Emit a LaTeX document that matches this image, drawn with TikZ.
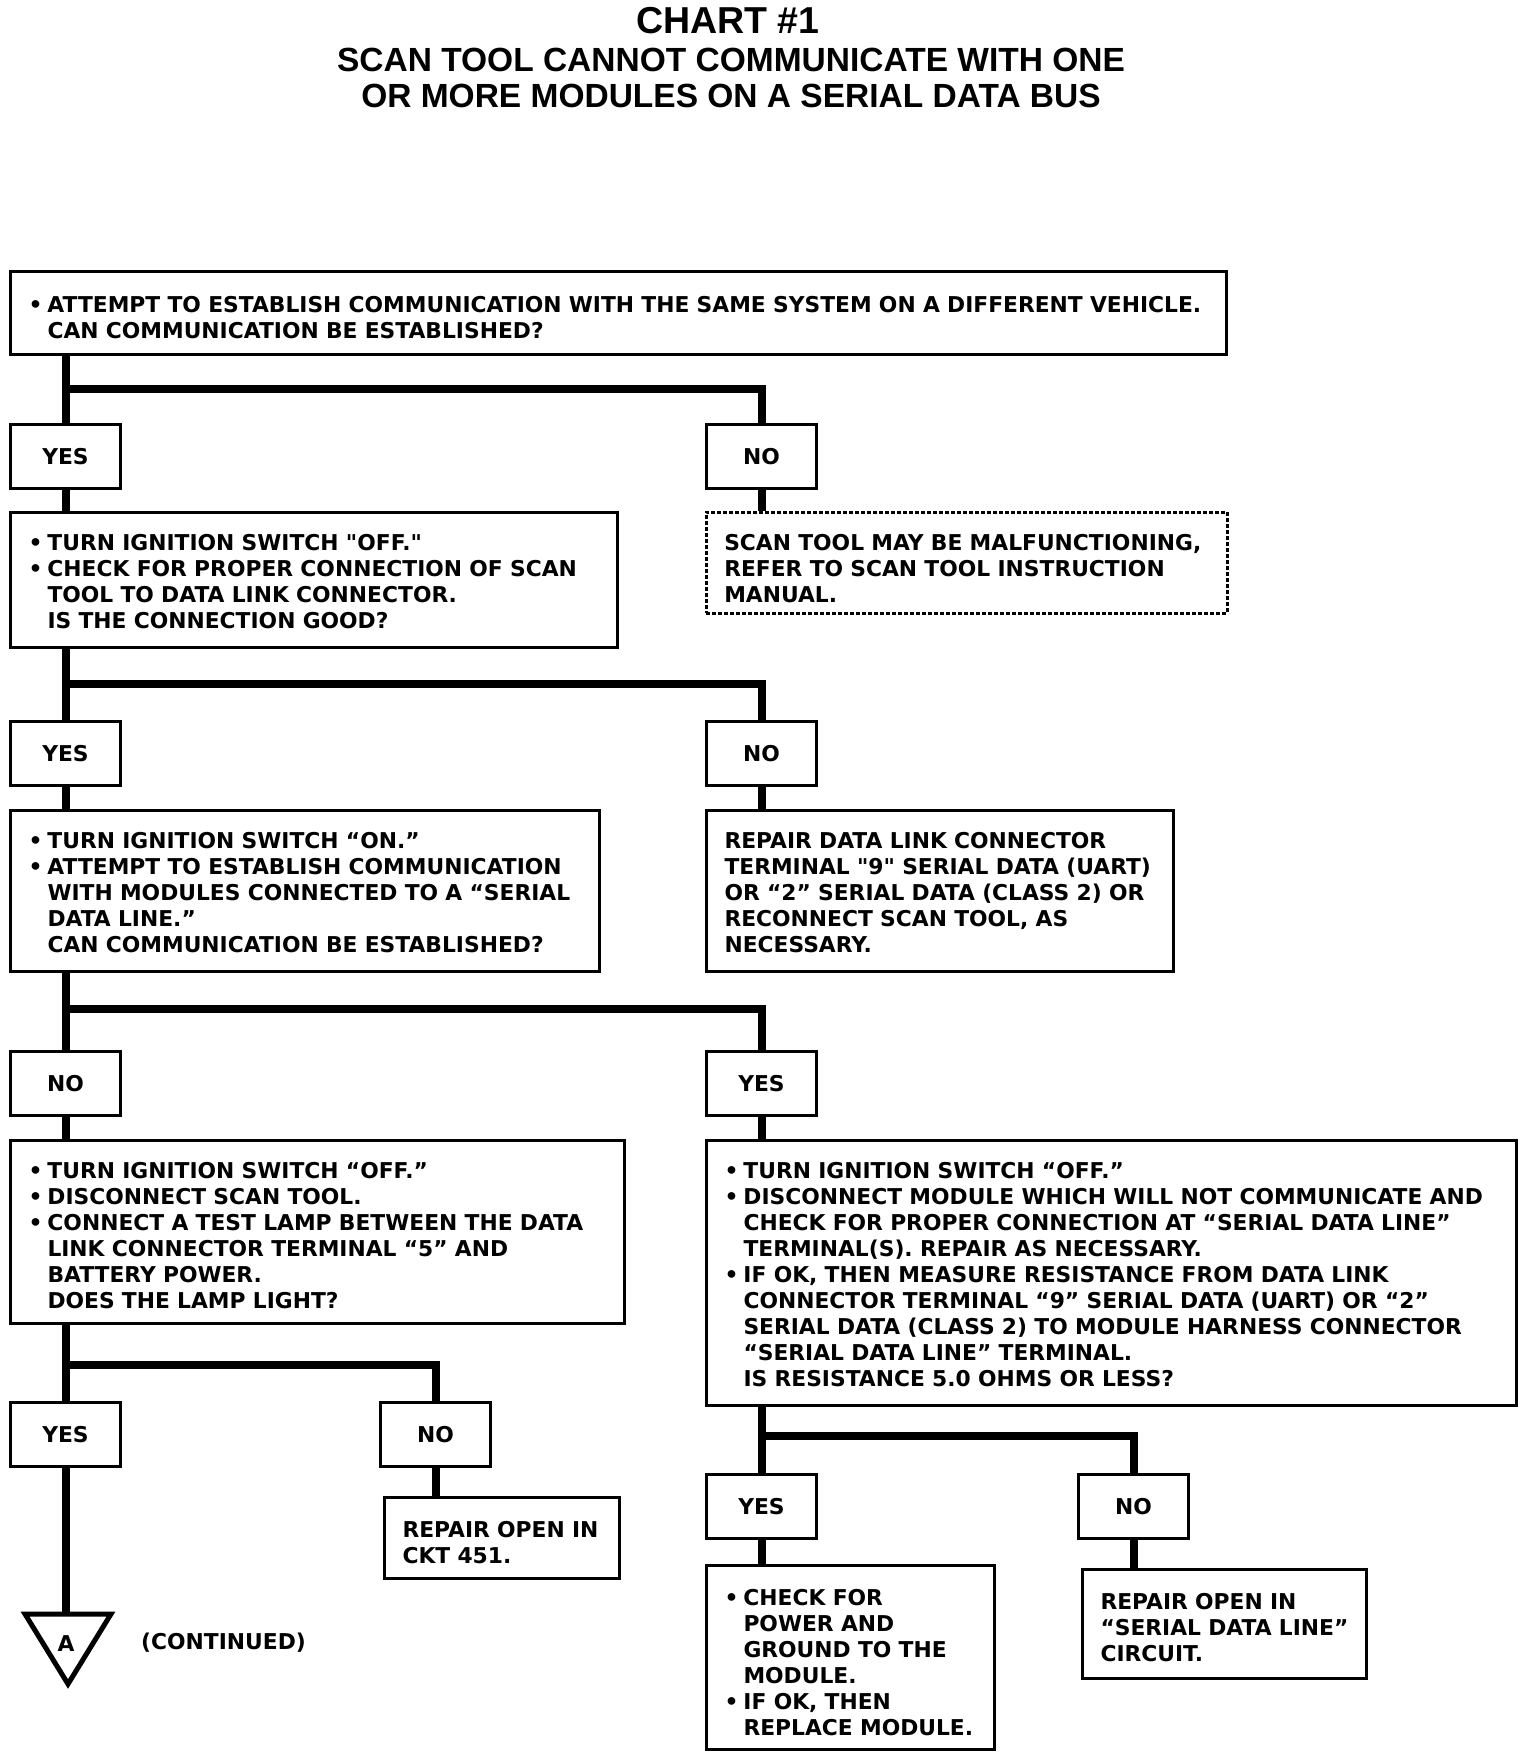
\documentclass[tikz,border=0pt]{standalone}
\usepackage{fontspec}
\setmainfont{DejaVu Sans}[Ligatures=TeXOff]
\newfontfamily\headfont{Liberation Sans}
\tikzset{
wire/.style={line width=8pt},
frame/.style={draw, line width=3pt, anchor=north west, inner xsep=18pt, inner ysep=0pt, align=left, text height=38pt},
dotframe/.style={frame, line width=2.5pt, dash pattern=on 4pt off 2pt},
answer/.style={draw, line width=3pt, anchor=north west, minimum width=110pt, minimum height=64pt, inner sep=0pt},
tri/.style={line width=5pt, line join=miter},
headline/.style={font=\headfont\bfseries\fontsize{33.5}{36}\selectfont, anchor=base},
}
\tikzstyle{every node}=[font=\bfseries\fontsize{21.8}{26}\selectfont]
\newcommand\bul[1]{\mbox{\makebox[19pt][l]{•}#1}}
\newcommand\hang[1]{\mbox{\hspace*{19pt}#1}}
\newcommand\row[1]{\mbox{#1}}

\begin{document}
\begin{tikzpicture}[x=1pt, y=-1pt]
        \useasboundingbox (0,0) rectangle (1536,1758);

        % heading
        \node[headline, font=\headfont\bfseries\fontsize{37.5}{40}\selectfont] (chart) at (728,34) {CHART \#1};
        \node[headline] (sub1) at (731,72) {SCAN TOOL CANNOT COMMUNICATE WITH ONE};
        \node[headline] (sub2) at (731,108) {OR MORE MODULES ON A SERIAL DATA BUS};

        % first question
        \node[frame, text width=1180pt, text height=41pt, text depth=42pt] (attempt) at (9,270)
        {\bul{ATTEMPT TO ESTABLISH COMMUNICATION WITH THE SAME SYSTEM ON A DIFFERENT VEHICLE.}\\
        \hang{CAN COMMUNICATION BE ESTABLISHED?}};
        \node[answer] (yes1) at (9,423) {YES};
        \node[answer] (no1) at (705,423) {NO};
        \node[frame, text width=571pt, text depth=97pt] (link) at (9,511)
        {\bul{TURN IGNITION SWITCH "OFF."}\\
        \bul{CHECK FOR PROPER CONNECTION OF SCAN}\\
        \hang{TOOL TO DATA LINK CONNECTOR.}\\
        \hang{IS THE CONNECTION GOOD?}};
        \node[dotframe, text width=485pt, text depth=63pt] (manual) at (705,511)
        {\row{SCAN TOOL MAY BE MALFUNCTIONING,}\\
        \row{REFER TO SCAN TOOL INSTRUCTION}\\
        \row{MANUAL.}};

        % second question
        \node[answer] (yes2) at (9,720) {YES};
        \node[answer] (no2) at (705,720) {NO};
        \node[frame, text width=553pt, text depth=123pt] (modules) at (9,809)
        {\bul{TURN IGNITION SWITCH “ON.”}\\
        \bul{ATTEMPT TO ESTABLISH COMMUNICATION}\\
        \hang{WITH MODULES CONNECTED TO A “SERIAL}\\
        \hang{DATA LINE.”}\\
        \hang{CAN COMMUNICATION BE ESTABLISHED?}};
        \node[frame, text width=431pt, text depth=123pt] (dlc) at (705,809)
        {\row{REPAIR DATA LINK CONNECTOR}\\
        \row{TERMINAL "9" SERIAL DATA (UART)}\\
        \row{OR “2” SERIAL DATA (CLASS 2) OR}\\
        \row{RECONNECT SCAN TOOL, AS}\\
        \row{NECESSARY.}};

        % third question
        \node[answer] (no3) at (9,1050) {NO};
        \node[answer] (yes3) at (705,1050) {YES};
        \node[frame, text width=578pt, text depth=145pt] (lamp) at (9,1139)
        {\bul{TURN IGNITION SWITCH “OFF.”}\\
        \bul{DISCONNECT SCAN TOOL.}\\
        \bul{CONNECT A TEST LAMP BETWEEN THE DATA}\\
        \hang{LINK CONNECTOR TERMINAL “5” AND}\\
        \hang{BATTERY POWER.}\\
        \hang{DOES THE LAMP LIGHT?}};
        \node[frame, text width=774pt, text depth=227pt] (ohms) at (705,1139)
        {\bul{TURN IGNITION SWITCH “OFF.”}\\
        \bul{DISCONNECT MODULE WHICH WILL NOT COMMUNICATE AND}\\
        \hang{CHECK FOR PROPER CONNECTION AT “SERIAL DATA LINE”}\\
        \hang{TERMINAL(S). REPAIR AS NECESSARY.}\\
        \bul{IF OK, THEN MEASURE RESISTANCE FROM DATA LINK}\\
        \hang{CONNECTOR TERMINAL “9” SERIAL DATA (UART) OR “2”}\\
        \hang{SERIAL DATA (CLASS 2) TO MODULE HARNESS CONNECTOR}\\
        \hang{“SERIAL DATA LINE” TERMINAL.}\\
        \hang{IS RESISTANCE 5.0 OHMS OR LESS?}};

        % lamp answers
        \node[answer] (yes4) at (9,1401) {YES};
        \node[answer] (no4) at (379,1401) {NO};
        \node[frame, text width=199pt, text height=40pt, text depth=41pt] (ckt) at (383,1496)
        {\row{REPAIR OPEN IN}\\
        \row{CKT 451.}};
        \coordinate (tritop) at (68,1614);
        \draw[tri] ([xshift=-43pt]tritop) -- ([xshift=43pt]tritop) -- ([yshift=-70pt]tritop) -- cycle;
        \node (contA) at (66,1644) {A};
        \node[anchor=west, inner sep=0pt] (cont) at (141,1643) {(CONTINUED)};

        % resistance answers
        \node[answer] (yes5) at (705,1473) {YES};
        \node[answer] (no5) at (1077,1473) {NO};
        \node[frame, text width=252pt, text height=40pt, text depth=144pt] (power) at (705,1564)
        {\bul{CHECK FOR}\\
        \hang{POWER AND}\\
        \hang{GROUND TO THE}\\
        \hang{MODULE.}\\
        \bul{IF OK, THEN}\\
        \hang{REPLACE MODULE.}};
        \node[frame, text width=248pt, text height=40pt, text depth=69pt] (sdl) at (1081,1568)
        {\row{REPAIR OPEN IN}\\
        \row{“SERIAL DATA LINE”}\\
        \row{CIRCUIT.}};

        % splits
        \coordinate (s1) at (64,389);
        \coordinate (s2) at (64,684);
        \coordinate (s3) at (64,1009);
        \coordinate (s4) at (64,1365);
        \coordinate (s5) at (760,1436);

        \draw[wire] (attempt.south -| yes1.north) -- (yes1.north);
        \draw[wire] (s1) -| (no1.north);
        \draw[wire] (yes1.south) -- (yes1.south |- link.north);
        \draw[wire] (no1.south) -- (no1.south |- manual.north);

        \draw[wire] (link.south -| yes2.north) -- (yes2.north);
        \draw[wire] (s2) -| (no2.north);
        \draw[wire] (yes2.south) -- (yes2.south |- modules.north);
        \draw[wire] (no2.south) -- (no2.south |- dlc.north);

        \draw[wire] (modules.south -| no3.north) -- (no3.north);
        \draw[wire] (s3) -| (yes3.north);
        \draw[wire] (no3.south) -- (no3.south |- lamp.north);
        \draw[wire] (yes3.south) -- (yes3.south |- ohms.north);

        \draw[wire] (lamp.south -| yes4.north) -- (yes4.north);
        \draw[wire] (s4) -| (no4.north);
        \draw[wire] (no4.south) -- (no4.south |- ckt.north);
        \draw[wire] (yes4.south) -- (yes4.south |- tritop);

        \draw[wire] (ohms.south -| yes5.north) -- (yes5.north);
        \draw[wire] (s5) -| (no5.north);
        \draw[wire] (yes5.south) -- (yes5.south |- power.north);
        \draw[wire] (no5.south) -- (no5.south |- sdl.north);
    \end{tikzpicture}
\end{document}
